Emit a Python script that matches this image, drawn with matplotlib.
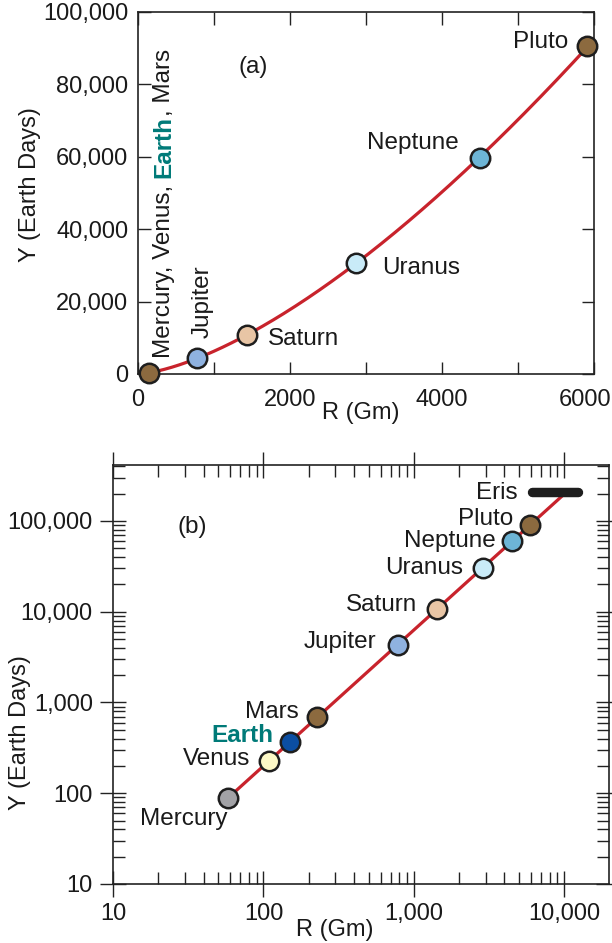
import numpy as np
import matplotlib.pyplot as plt
from matplotlib.ticker import MultipleLocator, FuncFormatter, LogLocator, NullFormatter

plt.rcParams['font.family'] = ['Liberation Sans', 'DejaVu Sans']
plt.rcParams['font.size'] = 17
LABEL_FS = 17.5

# orbital data
planets = ["Mercury", "Venus", "Earth", "Mars", "Jupiter",
           "Saturn", "Uranus", "Neptune", "Pluto"]
radius_gm = [57.9, 108.2, 149.6, 227.9, 778.6, 1433.5, 2872.5, 4495.1, 5906.4]
period_days = [88.0, 224.7, 365.25, 687.0, 4331, 10747, 30589, 59800, 90560]
planet_colors = ['#a2a2a6', '#fdf8c6', '#0b4ea2', '#8c6a3f', '#8fb2e0',
                 '#e8c5a5', '#c9ebf8', '#6db5d6', '#8c6a3f']

eris_r = [6100, 12400]   # extent of the Eris bar
eris_a = 10125
eris_period = 210000

red = '#c8232c'
teal = '#007a78'
edge = '#1e1e1e'
ink = '#1a1a1a'

# power-law fit through the planets
coef = np.polyfit(np.log10(radius_gm), np.log10(period_days), 1)

fig = plt.figure(figsize=(6.12, 9.43), dpi=100)

# ---------- (a) linear ----------
ax1 = fig.add_axes([0.2255, 0.6034, 0.7451, 0.3839])
r_lin = np.linspace(radius_gm[0], radius_gm[-1], 300)
ax1.plot(r_lin, 10 ** np.polyval(coef, np.log10(r_lin)), color=red, lw=2.3, zorder=3)

lin_idx = [2, 4, 5, 6, 7, 8]   # inner planets share one marker at Earth
for i in lin_idx:
    c = planet_colors[3] if i == 2 else planet_colors[i]
    ax1.plot(radius_gm[i], period_days[i], 'o', ms=14, mfc=c, mec=edge, mew=1.8,
             zorder=5, clip_on=False)

ax1.set_xlim(0, 6000)
ax1.set_ylim(0, 100000)
ax1.xaxis.set_major_locator(MultipleLocator(1000))
ax1.xaxis.set_major_formatter(
    FuncFormatter(lambda v, p: f"{v:.0f}" if v % 2000 == 0 and v < 6000 else ""))
ax1.yaxis.set_major_locator(MultipleLocator(20000))
ax1.yaxis.set_major_formatter(FuncFormatter(lambda v, p: f"{v:,.0f}"))
ax1.tick_params(direction='in', length=9, width=1.0, top=True, right=True,
                colors='#222222', labelcolor=ink)
ax1.tick_params(axis='x', pad=11)
ax1.tick_params(axis='y', pad=7)
for s in ax1.spines.values():
    s.set_linewidth(1.2)
    s.set_color('#222222')
# last x label sits a little left so it stays inside the figure
ax1.annotate("6000", (6000, 0), xytext=(-6.5, -11), textcoords='offset points',
             ha='center', va='top', color=ink)

lin_labels = {"Saturn": (15, -3, 'left'), "Uranus": (18.7, -3.6, 'left'),
              "Neptune": (-15, 10.4, 'right'), "Pluto": (-13.7, 3, 'right')}
for name, (dx, dy, ha) in lin_labels.items():
    i = planets.index(name)
    ax1.annotate(name, (radius_gm[i], period_days[i]), xytext=(dx, dy),
                 textcoords='offset points', ha=ha, va='center', color=ink,
                 fontsize=LABEL_FS)
ax1.annotate("Jupiter", (radius_gm[4], period_days[4]), xytext=(4.3, 14.4),
             textcoords='offset points', rotation=90, ha='center', va='bottom',
             color=ink, fontsize=LABEL_FS)

# vertical multi-colour label for the inner planets
t1 = ax1.annotate("Mercury, Venus,", (radius_gm[2], period_days[2]), xytext=(15, 10.8),
                  textcoords='offset points', rotation=90, rotation_mode='anchor',
                  ha='left', va='baseline', color=ink, fontsize=LABEL_FS)
t2 = ax1.annotate("Earth", (radius_gm[2], 1.0), xycoords=('data', t1), xytext=(15, 4.8),
                  textcoords='offset points', rotation=90, rotation_mode='anchor',
                  ha='left', va='baseline', color=teal, fontweight='bold',
                  fontsize=LABEL_FS)
ax1.annotate(", Mars", (radius_gm[2], 1.0), xycoords=('data', t2), xytext=(15, 0),
             textcoords='offset points', rotation=90, rotation_mode='anchor',
             ha='left', va='baseline', color=ink, fontsize=LABEL_FS)

ax1.text(0.252, 0.848, "(a)", transform=ax1.transAxes, ha='center', va='center',
         color=ink, fontsize=LABEL_FS)
fig.text(0.049, 0.8038, "Y (Earth Days)", rotation=90, ha='center', va='center',
         color=ink)
fig.text(361 / 612, 1 - 413 / 943, "R (Gm)", ha='center', va='center', color=ink)

# ---------- (b) log-log ----------
ax2 = fig.add_axes([0.1846, 0.0626, 0.8105, 0.4443])
r_log = np.geomspace(radius_gm[0], eris_a, 300)
ax2.plot(r_log, 10 ** np.polyval(coef, np.log10(r_log)), color=red, lw=2.3, zorder=3)
ax2.plot(eris_r, [eris_period, eris_period], color='#1e1e1e', lw=6.8,
         solid_capstyle='round', zorder=4)
for i in range(len(planets)):
    ax2.plot(radius_gm[i], period_days[i], 'o', ms=14, mfc=planet_colors[i], mec=edge,
             mew=1.8, zorder=5)

ax2.set_xscale('log')
ax2.set_yscale('log')
ax2.set_xlim(10, 19800)
ax2.set_ylim(10, 414000)
comma = FuncFormatter(lambda v, p: f"{v:,.0f}")
for axis in (ax2.xaxis, ax2.yaxis):
    axis.set_major_locator(LogLocator(base=10, numticks=10))
    axis.set_minor_locator(LogLocator(base=10, subs=np.arange(2, 10), numticks=10))
    axis.set_major_formatter(comma)
    axis.set_minor_formatter(NullFormatter())
ax2.tick_params(which='major', direction='inout', length=19, width=1.0, top=True,
                right=True, colors='#222222', labelcolor=ink)
ax2.tick_params(which='minor', direction='in', length=8.6, width=1.0, top=True,
                right=True, colors='#222222')
ax2.tick_params(axis='x', which='major', pad=4.3)
ax2.tick_params(axis='y', which='major', pad=5)
for s in ax2.spines.values():
    s.set_linewidth(1.2)
    s.set_color('#222222')

log_labels = {"Mercury": (0, -15), "Venus": (-13, 1.5), "Mars": (-13.5, 3.5),
              "Jupiter": (-15, 2), "Saturn": (-14.5, 3), "Uranus": (-14.5, 0),
              "Neptune": (-12, 0), "Pluto": (-12, 4.5)}
for name, (dx, dy) in log_labels.items():
    i = planets.index(name)
    ax2.annotate(name, (radius_gm[i], period_days[i]), xytext=(dx, dy),
                 textcoords='offset points', ha='right', va='center', color=ink,
                 fontsize=LABEL_FS)
ax2.annotate("Earth", (radius_gm[2], period_days[2]), xytext=(-12, 4.5),
             textcoords='offset points', ha='right', va='center', color=teal,
             fontweight='bold', fontsize=LABEL_FS)
ax2.annotate("Eris", (eris_r[0], eris_period), xytext=(-10.5, -1),
             textcoords='offset points', ha='right', va='center', color=ink,
             fontsize=LABEL_FS)

ax2.text(0.159, 0.852, "(b)", transform=ax2.transAxes, ha='center', va='center',
         color=ink, fontsize=LABEL_FS)
fig.text(20 / 612, 1 - 733 / 943, "Y (Earth Days)", rotation=90, ha='center',
         va='center', color=ink)
fig.text(335 / 612, 1 - 930 / 943, "R (Gm)", ha='center', va='center', color=ink)

fig.savefig("out.png", dpi=100)
